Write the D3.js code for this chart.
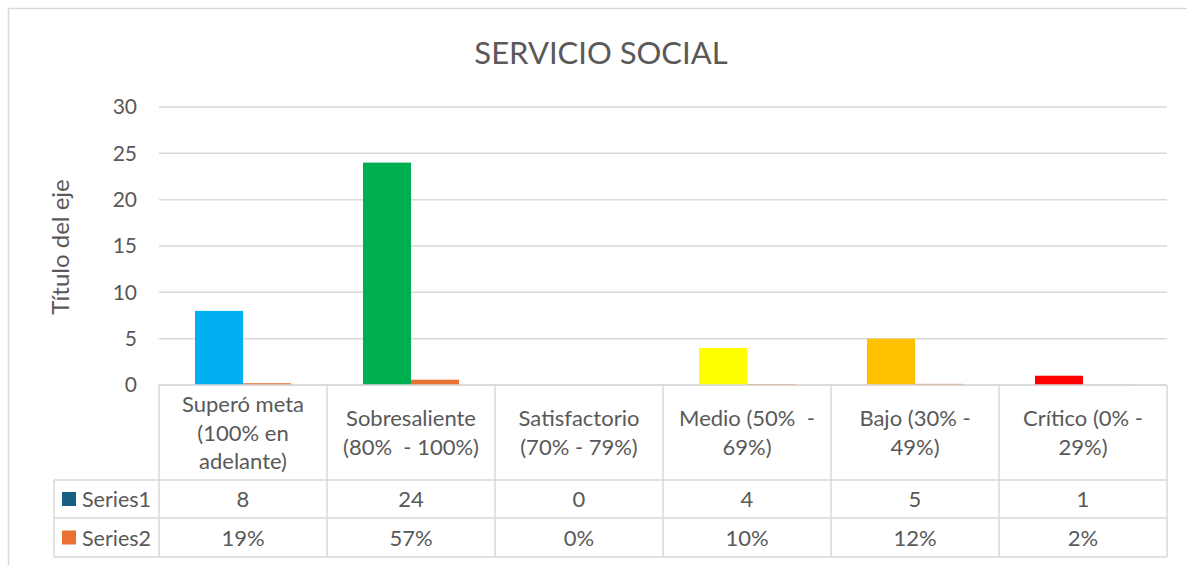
<!DOCTYPE html>
<html>
<head>
<meta charset="utf-8">
<script src="https://cdn.jsdelivr.net/npm/d3@7"></script>
<style>
  body { margin: 0; background: #fff; }
  svg text { font-family: Lato, "Open Sans", sans-serif; fill: #595959; white-space: pre; }
</style>
</head>
<body>
<div id="chart"></div>
<script>
// chart values
const categories = [
    ["Superó meta", "(100% en", "adelante)"],
    ["Sobresaliente", "(80%  - 100%)"],
    ["Satisfactorio", "(70% - 79%)"],
    ["Medio (50%  -", "69%)"],
    ["Bajo (30% -", "49%)"],
    ["Crítico (0% -", "29%)"]
];
const series1 = [8, 24, 0, 4, 5, 1];
const series2 = [0.19, 0.57, 0, 0.10, 0.12, 0.02];
const series2Labels = ["19%", "57%", "0%", "10%", "12%", "2%"];
const seriesNames = ["Series1", "Series2"];
const barColors = ["#00B0F0", "#00B050", "#92D050", "#FFFF00", "#FFC000", "#FF0000"];
const yTicks = [0, 5, 10, 15, 20, 25, 30];

function draw() {
    const W = 1187, H = 565;
    const plot = { left: 159, right: 1167, top: 107, bottom: 385 };
    const headerBottom = 480, row1Bottom = 518, row2Bottom = 557;
    const legendLeft = 54;
    const lineColor = "#D9D9D9";
    const fs = 22;

    const svg = d3.select("#chart").append("svg")
        .attr("width", W)
        .attr("height", H);

    // outer chart border
    svg.append("rect")
        .attr("x", 8.5).attr("y", 8.5)
        .attr("width", 1186).attr("height", 600)
        .attr("fill", "#fff")
        .attr("stroke", lineColor)
        .attr("stroke-width", 1.5);

    svg.append("text")
        .text("SERVICIO SOCIAL")
        .attr("x", 601).attr("y", 64)
        .attr("text-anchor", "middle")
        .attr("font-size", 31);

    const x = d3.scaleBand()
        .domain(d3.range(categories.length))
        .range([plot.left, plot.right]);

    const xInner = d3.scaleBand()
        .domain([0, 1])
        .range([0, x.bandwidth()])
        .paddingOuter(0.75);

    const y = d3.scaleLinear()
        .domain([0, 30])
        .range([plot.bottom, plot.top]);

    // gridlines
    svg.append("g")
        .selectAll("line")
        .data(yTicks)
        .enter()
        .append("line")
        .attr("x1", plot.left).attr("x2", plot.right)
        .attr("y1", d => y(d)).attr("y2", d => y(d))
        .attr("stroke", lineColor)
        .attr("stroke-width", 1.5);

    // y axis labels
    const yAxis = svg.append("g")
        .attr("transform", "translate(" + (plot.left - 14) + ",0)")
        .call(d3.axisLeft(y).tickValues(yTicks).tickSize(0).tickPadding(8));
    yAxis.select(".domain").remove();
    yAxis.selectAll("text")
        .attr("font-size", 21)
        .style("font-family", "Lato, sans-serif")
        .style("fill", "#595959");

    svg.append("text")
        .text("Título del eje")
        .attr("transform", "translate(69,247) rotate(-90)")
        .attr("text-anchor", "middle")
        .attr("font-size", 24);

    // bars
    const bars = svg.append("g");
    bars.selectAll(".s1")
        .data(series1)
        .enter()
        .append("rect")
        .attr("x", (d, i) => x(i) + xInner(0))
        .attr("width", xInner.bandwidth())
        .attr("y", d => y(d))
        .attr("height", d => y(0) - y(d))
        .attr("fill", (d, i) => barColors[i]);

    bars.selectAll(".s2")
        .data(series2)
        .enter()
        .append("rect")
        .attr("x", (d, i) => x(i) + xInner(1))
        .attr("width", xInner.bandwidth())
        .attr("y", d => y(d))
        .attr("height", d => y(0) - y(d))
        .attr("fill", "#E97132");

    // data table
    const table = svg.append("g")
        .attr("stroke", lineColor)
        .attr("stroke-width", 1.5)
        .attr("fill", "none");

    // horizontal lines
    table.append("line")
        .attr("x1", plot.left).attr("x2", plot.right)
        .attr("y1", plot.bottom).attr("y2", plot.bottom);
    [headerBottom, row1Bottom, row2Bottom].forEach(yy => {
        table.append("line")
            .attr("x1", legendLeft).attr("x2", plot.right)
            .attr("y1", yy).attr("y2", yy);
    });
    // vertical lines
    d3.range(categories.length + 1).forEach(i => {
        const xx = i < categories.length ? x(i) : plot.right;
        table.append("line")
            .attr("x1", xx).attr("x2", xx)
            .attr("y1", plot.bottom).attr("y2", row2Bottom);
    });
    table.append("line")
        .attr("x1", legendLeft).attr("x2", legendLeft)
        .attr("y1", headerBottom).attr("y2", row2Bottom);

    // header labels
    const lineH = 28.5;
    const headCenter = (plot.bottom + headerBottom) / 2;
    categories.forEach((lines, i) => {
        const t = svg.append("text")
            .attr("text-anchor", "middle")
            .attr("font-size", fs);
        lines.forEach((ln, j) => {
            t.append("tspan")
                .attr("x", x(i) + x.bandwidth() / 2)
                .attr("y", headCenter + (j - (lines.length - 1) / 2) * lineH + 8)
                .text(ln);
        });
    });

    // value rows
    const rowCenters = [(headerBottom + row1Bottom) / 2, (row1Bottom + row2Bottom) / 2];
    const rowValues = [series1.map(String), series2Labels];
    const legendColors = ["#156082", "#E97132"];
    rowValues.forEach((vals, r) => {
        svg.append("g")
            .selectAll("text")
            .data(vals)
            .enter()
            .append("text")
            .attr("x", (d, i) => x(i) + x.bandwidth() / 2)
            .attr("y", rowCenters[r] + 8)
            .attr("text-anchor", "middle")
            .attr("font-size", fs)
            .text(d => d);

        svg.append("rect")
            .attr("x", 62).attr("y", rowCenters[r] - 7)
            .attr("width", 14).attr("height", 14)
            .attr("fill", legendColors[r]);

        svg.append("text")
            .attr("x", 82).attr("y", rowCenters[r] + 8)
            .attr("font-size", 21.5)
            .text(seriesNames[r]);
    });
}

window.addEventListener("load", draw);
</script>
</body>
</html>
